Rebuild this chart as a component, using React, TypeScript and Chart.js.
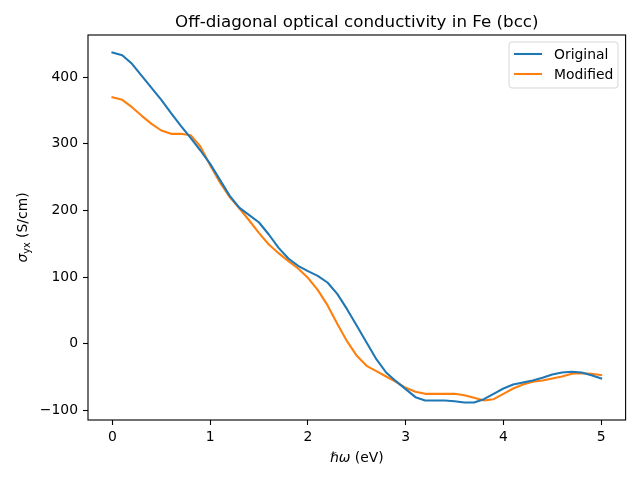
import React, { useEffect, useRef } from "react";
import { Chart, registerables } from "chart.js";

Chart.register(...registerables);

const energies = [
  0.0, 0.1, 0.2, 0.3, 0.4, 0.5, 0.6, 0.7, 0.8, 0.9,
  1.0, 1.1, 1.2, 1.3, 1.4, 1.5, 1.6, 1.7, 1.8, 1.9,
  2.0, 2.1, 2.2, 2.3, 2.4, 2.5, 2.6, 2.7, 2.8, 2.9,
  3.0, 3.1, 3.2, 3.3, 3.4, 3.5, 3.6, 3.7, 3.8, 3.9,
  4.0, 4.1, 4.2, 4.3, 4.4, 4.5, 4.6, 4.7, 4.8, 4.9,
  5.0,
];

const original = [
  437, 433, 420, 402, 384, 366, 346, 327, 309, 290,
  270, 246, 222, 204, 193, 182, 164, 144, 128, 117,
  109, 102, 92, 75, 52, 27, 2, -23, -43, -56,
  -68, -80, -85, -85, -85, -86, -88, -88, -83, -75,
  -67, -61, -58, -55, -51, -46, -43, -42, -43, -47,
  -52,
];

const modified = [
  370, 366, 355, 342, 330, 320, 315, 315, 313, 296,
  268, 242, 220, 203, 185, 166, 149, 136, 124, 113,
  99, 81, 58, 30, 4, -18, -33, -41, -49, -57,
  -66, -72, -75, -75, -75, -75, -77, -81, -85, -83,
  -75, -67, -61, -57, -55, -52, -49, -45, -44, -45,
  -47,
];

const xTicks = [0, 1, 2, 3, 4, 5];
const yTicks = [-100, 0, 100, 200, 300, 400];
const seriesNames = ["Original", "Modified"];
const seriesColors = ["#1f77b4", "#ff7f0e"];
const titleText = "Off-diagonal optical conductivity in Fe (bcc)";

const FONT = "'DejaVu Sans', sans-serif";
const LW = 1.5 * 100 / 72;

function fmt(v: number) {
  return v < 0 ? "\u2212" + Math.abs(v) : String(v);
}

const decorPlugin = {
  id: "decor",
  afterDraw(chart: any) {
    const ctx = chart.ctx as CanvasRenderingContext2D;
    const a = chart.chartArea;
    ctx.save();
    // frame
    ctx.strokeStyle = "#000";
    ctx.lineWidth = 0.8 * 100 / 72;
    ctx.strokeRect(a.left, a.top, a.right - a.left, a.bottom - a.top);

    const cx = (a.left + a.right) / 2;
    // title
    ctx.fillStyle = "#000";
    ctx.font = `16.7px ${FONT}`;
    ctx.textAlign = "center";
    ctx.textBaseline = "alphabetic";
    ctx.fillText(titleText, cx, a.top - 8.3);

    // x label: ℏω (eV)
    const fs = 13.9;
    const p1 = "\u210F\u03C9";
    const p2 = " (eV)";
    ctx.font = `oblique ${fs}px ${FONT}`;
    const w1 = ctx.measureText(p1).width;
    ctx.font = `${fs}px ${FONT}`;
    const w2 = ctx.measureText(p2).width;
    let x0 = cx - (w1 + w2) / 2;
    const yb = 462;
    ctx.textAlign = "left";
    ctx.font = `oblique ${fs}px ${FONT}`;
    ctx.fillText(p1, x0, yb);
    ctx.font = `${fs}px ${FONT}`;
    ctx.fillText(p2, x0 + w1, yb);

    // y label: σ_yx (S/cm)
    const cy = (a.top + a.bottom) / 2;
    ctx.translate(27, cy);
    ctx.rotate(-Math.PI / 2);
    const s1 = "\u03C3";
    const s2 = "yx";
    const s3 = " (S/cm)";
    const subFs = fs * 0.7;
    ctx.font = `oblique ${fs}px ${FONT}`;
    const ws1 = ctx.measureText(s1).width;
    ctx.font = `${subFs}px ${FONT}`;
    const ws2 = ctx.measureText(s2).width;
    ctx.font = `${fs}px ${FONT}`;
    const ws3 = ctx.measureText(s3).width;
    let sx = -(ws1 + ws2 + ws3) / 2;
    ctx.font = `oblique ${fs}px ${FONT}`;
    ctx.fillText(s1, sx, 0);
    sx += ws1;
    ctx.font = `${subFs}px ${FONT}`;
    ctx.fillText(s2, sx, 3);
    sx += ws2;
    ctx.font = `${fs}px ${FONT}`;
    ctx.fillText(s3, sx, 0);
    ctx.setTransform(1, 0, 0, 1, 0, 0);

    // legend
    const lx = 509, ly = 42, lw = 109, lh = 46, r = 3;
    ctx.beginPath();
    ctx.moveTo(lx + r, ly);
    ctx.lineTo(lx + lw - r, ly);
    ctx.quadraticCurveTo(lx + lw, ly, lx + lw, ly + r);
    ctx.lineTo(lx + lw, ly + lh - r);
    ctx.quadraticCurveTo(lx + lw, ly + lh, lx + lw - r, ly + lh);
    ctx.lineTo(lx + r, ly + lh);
    ctx.quadraticCurveTo(lx, ly + lh, lx, ly + lh - r);
    ctx.lineTo(lx, ly + r);
    ctx.quadraticCurveTo(lx, ly, lx + r, ly);
    ctx.closePath();
    ctx.fillStyle = "rgba(255,255,255,0.8)";
    ctx.fill();
    ctx.strokeStyle = "rgba(204,204,204,0.8)";
    ctx.lineWidth = 1;
    ctx.stroke();
    ctx.font = `${fs}px ${FONT}`;
    ctx.textBaseline = "middle";
    ctx.textAlign = "left";
    seriesNames.forEach((name, i) => {
      const y = 54 + i * 20;
      ctx.strokeStyle = seriesColors[i];
      ctx.lineWidth = LW;
      ctx.beginPath();
      ctx.moveTo(514, y);
      ctx.lineTo(542, y);
      ctx.stroke();
      ctx.fillStyle = "#000";
      ctx.fillText(name, 554, y + 1);
    });
    ctx.restore();
  },
};

export default function App() {
  const ref = useRef<HTMLCanvasElement>(null);
  useEffect(() => {
    if (!ref.current) return;
    const mk = (vals: number[]) => energies.map((e, i) => ({ x: e, y: vals[i] }));
    const chart = new Chart(ref.current, {
      type: "line",
      data: {
        datasets: [
          {
            label: seriesNames[0],
            data: mk(original),
            borderColor: seriesColors[0],
            backgroundColor: seriesColors[0],
            borderWidth: LW,
            pointRadius: 0,
            tension: 0,
            borderJoinStyle: "round",
            borderCapStyle: "square",
          },
          {
            label: seriesNames[1],
            data: mk(modified),
            borderColor: seriesColors[1],
            backgroundColor: seriesColors[1],
            borderWidth: LW,
            pointRadius: 0,
            tension: 0,
            borderJoinStyle: "round",
            borderCapStyle: "square",
          },
        ],
      },
      options: {
        responsive: false,
        animation: false,
        devicePixelRatio: 1,
        layout: { padding: { left: 0, right: 14.4, top: 35, bottom: 0 } },
        plugins: {
          legend: { display: false },
          title: { display: false },
          tooltip: { enabled: false },
        },
        scales: {
          x: {
            type: "linear",
            min: -0.25,
            max: 5.25,
            afterBuildTicks: (s: any) => {
              s.ticks = xTicks.map((v) => ({ value: v }));
            },
            afterFit: (s: any) => {
              s.height = 60;
            },
            ticks: {
              color: "#000",
              font: { family: FONT, size: 13.9 },
              padding: 4,
              maxRotation: 0,
              autoSkip: false,
              callback: (v: any) => fmt(Number(v)),
            },
            grid: {
              drawOnChartArea: false,
              drawTicks: true,
              tickLength: 5,
              tickWidth: 1.1,
              tickColor: "#000",
            },
            border: { display: false },
          },
          y: {
            type: "linear",
            min: -114.25,
            max: 463.25,
            afterBuildTicks: (s: any) => {
              s.ticks = yTicks.map((v) => ({ value: v }));
            },
            afterFit: (s: any) => {
              s.width = 88;
            },
            ticks: {
              color: "#000",
              font: { family: FONT, size: 13.9 },
              padding: 5,
              autoSkip: false,
              callback: (v: any) => fmt(Number(v)),
            },
            grid: {
              drawOnChartArea: false,
              drawTicks: true,
              tickLength: 5,
              tickWidth: 1.1,
              tickColor: "#000",
            },
            border: { display: false },
          },
        },
      },
      plugins: [decorPlugin],
    });
    return () => chart.destroy();
  }, []);
  return (
    <div style={{ position: "fixed", left: 0, top: 0, width: 640, height: 480, background: "#fff" }}>
      <canvas ref={ref} width={640} height={480} style={{ display: "block" }} />
    </div>
  );
}
